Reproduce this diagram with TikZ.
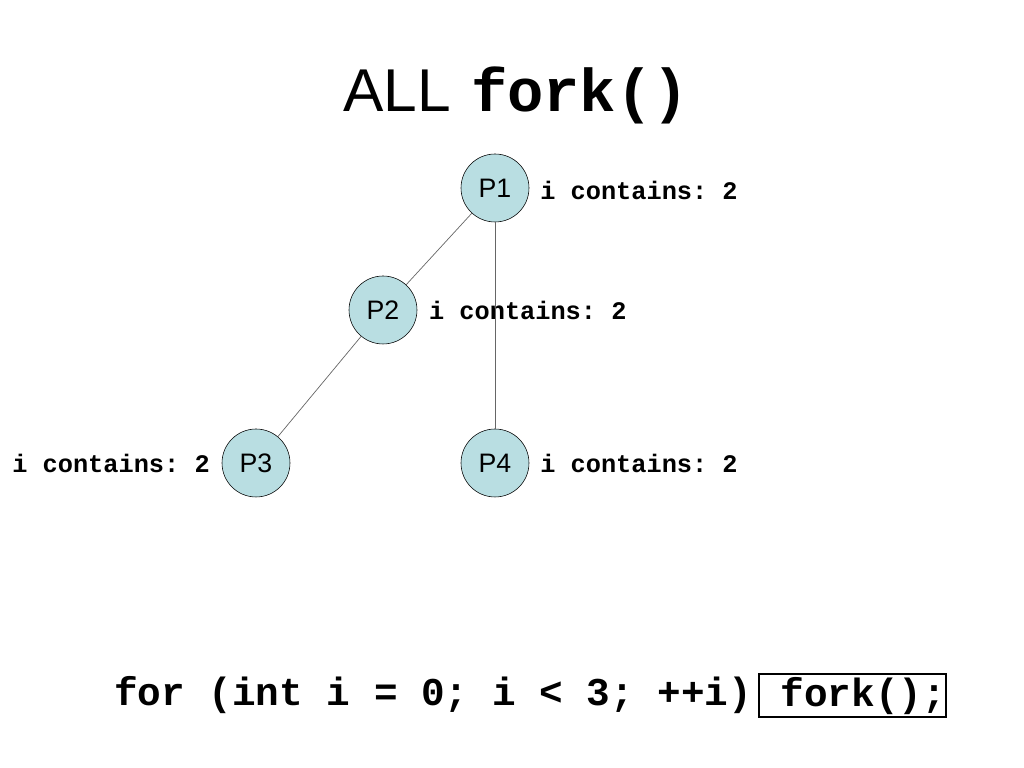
\documentclass[tikz,border=0pt]{standalone}
\usepackage{fontspec}
\setmainfont{Liberation Sans}
\setmonofont{Liberation Mono}
\usetikzlibrary{positioning}
\definecolor{procfill}{RGB}{185,222,226}

\begin{document}
\begin{tikzpicture}[
	proc/.style={draw,
		circle,
		fill=procfill,
		minimum size=1.7cm,
		inner sep=0pt,
		font=\fontsize{19}{21}\selectfont
	},
	info/.style={inner sep=0pt,
		font=\ttfamily\bfseries\fontsize{18}{20}\selectfont
	},
	forkline/.style={draw=black!60, line width=0.5pt}
]
\useasboundingbox (0, 0) rectangle (25.6, 19.2);

% Title
\node [anchor=base west, inner sep=0pt] (title) at (8.58, 16.4) {%
\fontsize{43}{46}\selectfont ALL\hspace{0.5cm}%
\ttfamily\bfseries\fontsize{43}{46}\selectfont fork()};

% P1
\node [proc] (p1) at (12.375, 14.5) {P1};
\node [info, anchor=west] (p1_info) at (13.5, 14.45) {i contains: 2};

% P2
\node [proc] (p2) at (9.575, 11.45) {P2};
\node [info, anchor=west] (p2_info) at (10.72, 11.45) {i contains: 2};

% P3
\node [proc] (p3) at (6.4, 7.625) {P3};
\node [info, anchor=east] (p3_info) at (5.25, 7.625) {i contains: 2};

% P4
\node [proc] (p4) at (12.375, 7.625) {P4};
\node [info, anchor=west] (p4_info) at (13.5, 7.625) {i contains: 2};

% Loop
\node [anchor=base west,
	inner sep=0pt,
	font=\ttfamily\bfseries\fontsize{28}{30}\selectfont
] (loop) at (2.85, 1.55) {for (int i = 0; i < 3; ++i)};

% Forked call
\node [draw,
	line width=1pt,
	inner sep=0pt,
	minimum height=1.075cm,
	text width=4.675cm,
	align=right,
	font=\ttfamily\bfseries\fontsize{28}{30}\selectfont
] (fork_call) at (21.31, 1.81) {fork();\hspace{-0.1cm}};

% Edges
\draw [forkline] (p1) -- (p2);
\draw [forkline] (p1) -- (p4);
\draw [forkline] (p2) -- (p3);

\end{tikzpicture}
\end{document}
